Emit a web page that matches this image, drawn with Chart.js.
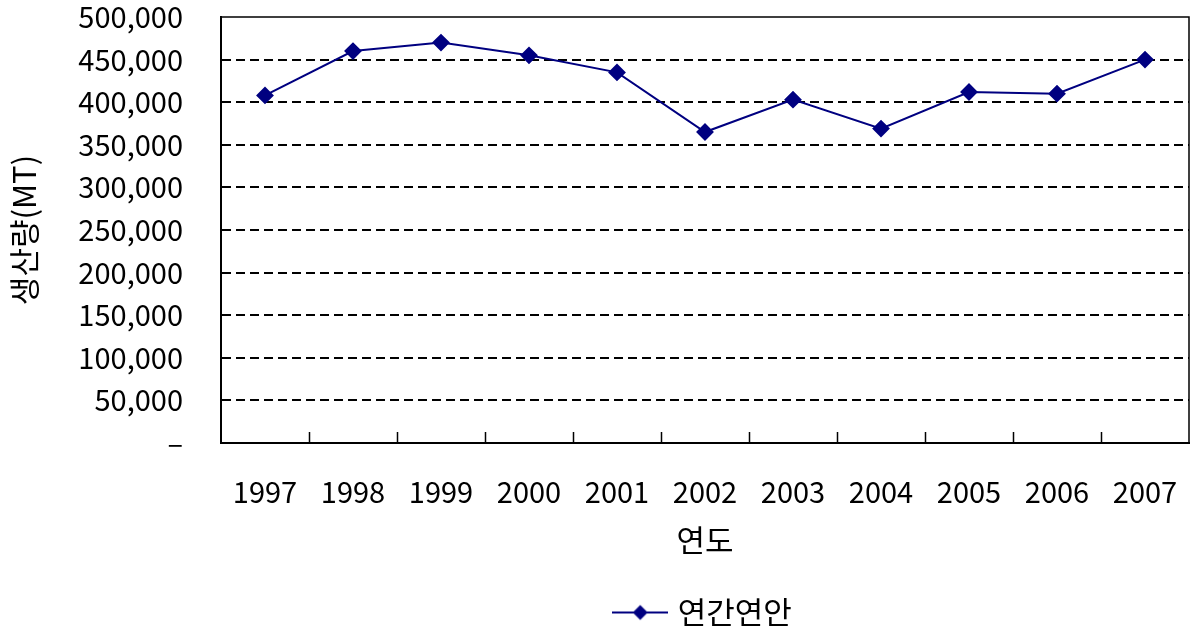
<!DOCTYPE html>
<html>
<head>
<meta charset="utf-8">
<script src="https://cdn.jsdelivr.net/npm/chart.js@4.4.1/dist/chart.umd.min.js"></script>
<style>
  html, body { margin: 0; padding: 0; background: #fff; }
  #wrap { width: 1191px; height: 632px; }
</style>
</head>
<body>
<div id="wrap"><canvas id="chart"></canvas></div>
<script>
const years = ['1997', '1998', '1999', '2000', '2001', '2002', '2003', '2004', '2005', '2006', '2007']
const production = [408000, 460000, 470000, 455000, 435000, 365000, 403000, 369000, 412000, 410000, 450000]
const seriesName = '연간연안'
const yTitle = '생산량(MT)'
const xTitle = '연도'

const NAVY = '#000080'
const KFONT = "'Noto Sans CJK KR', 'Noto Sans', sans-serif"

Chart.defaults.color = '#000'
Chart.defaults.font.family = KFONT

// legend symbol: short line with a diamond in the middle
function legendIcon() {
    const c = document.createElement('canvas')
    c.width = 56
    c.height = 18
    const g = c.getContext('2d')
    g.strokeStyle = NAVY
    g.lineWidth = 2
    g.beginPath()
    g.moveTo(0, 9)
    g.lineTo(56, 9)
    g.stroke()
    g.fillStyle = NAVY
    g.beginPath()
    g.moveTo(28, 1.5)
    g.lineTo(35.5, 9)
    g.lineTo(28, 16.5)
    g.lineTo(20.5, 9)
    g.closePath()
    g.fill()
    return c
}

// box border + short tick marks between the years, drawn inside the plot
const frame = {
    id: 'frame',
    beforeDatasetsDraw(chart) {
        const { ctx, chartArea: a, scales: { x } } = chart
        ctx.save()
        ctx.strokeStyle = '#000'
        ctx.lineWidth = 1.5
        ctx.beginPath()
        ctx.moveTo(a.left, a.top)
        ctx.lineTo(a.right, a.top)
        ctx.lineTo(a.right, a.bottom)
        const half = (x.getPixelForValue(1) - x.getPixelForValue(0)) / 2
        for (let i = 0; i < years.length - 1; i++) {
            const px = Math.round(x.getPixelForValue(i) + half) + 0.5
            ctx.moveTo(px, a.bottom)
            ctx.lineTo(px, a.bottom - 11)
        }
        ctx.stroke()
        ctx.restore()
    }
}

const ctx = document.querySelector('#chart')
new Chart(ctx, {
    type: 'line',
    data: {
        labels: years,
        datasets: [{
            label: seriesName,
            data: production,
            borderColor: NAVY,
            backgroundColor: NAVY,
            borderWidth: 2,
            pointStyle: 'rectRot',
            pointRadius: 7.5,
            pointHoverRadius: 7.5,
            tension: 0
        }]
    },
    plugins: [frame],
    options: {
        responsive: true,
        maintainAspectRatio: false,
        animation: false,
        layout: {
            autoPadding: false,
            padding: { left: 0, right: 2, top: 17, bottom: -6 }
        },
        plugins: {
            tooltip: { enabled: false },
            legend: {
                position: 'bottom',
                fullSize: false,
                labels: {
                    usePointStyle: true,
                    pointStyleWidth: 44,
                    font: { size: 31 },
                    padding: 0,
                    generateLabels: () => [{
                        text: seriesName,
                        pointStyle: legendIcon(),
                        fillStyle: NAVY,
                        strokeStyle: NAVY,
                        lineWidth: 0,
                        datasetIndex: 0
                    }]
                }
            }
        },
        scales: {
            x: {
                offset: true,
                grid: { display: true, drawOnChartArea: false, drawTicks: false, offset: true },
                border: { display: true, color: '#000', width: 2 },
                ticks: { padding: 32, maxRotation: 0, font: { size: 29 } },
                title: {
                    display: true,
                    text: xTitle,
                    font: { size: 31 },
                    padding: { top: 0, bottom: 38 }
                },
                afterFit(scale) {
                    scale.height = 154
                    scale.paddingLeft = 0
                    scale.paddingRight = 0
                }
            },
            y: {
                min: 0,
                max: 500000,
                grid: {
                    drawTicks: false,
                    lineWidth: 2,
                    color: c => (c.tick && (c.tick.value === 0 || c.tick.value === 500000)) ? 'rgba(0,0,0,0)' : '#000'
                },
                border: { display: true, color: '#000', width: 2, dash: [9, 5] },
                ticks: {
                    stepSize: 50000,
                    padding: 38,
                    font: { size: 29 },
                    callback: v => v === 0 ? '–' : v.toLocaleString('en-US')
                },
                title: {
                    display: true,
                    text: yTitle,
                    font: { size: 31 },
                    padding: { top: 6, bottom: 0 }
                },
                afterFit(scale) {
                    scale.width = 221
                    scale.paddingTop = 0
                    scale.paddingBottom = 0
                }
            }
        }
    }
})
</script>
</body>
</html>
